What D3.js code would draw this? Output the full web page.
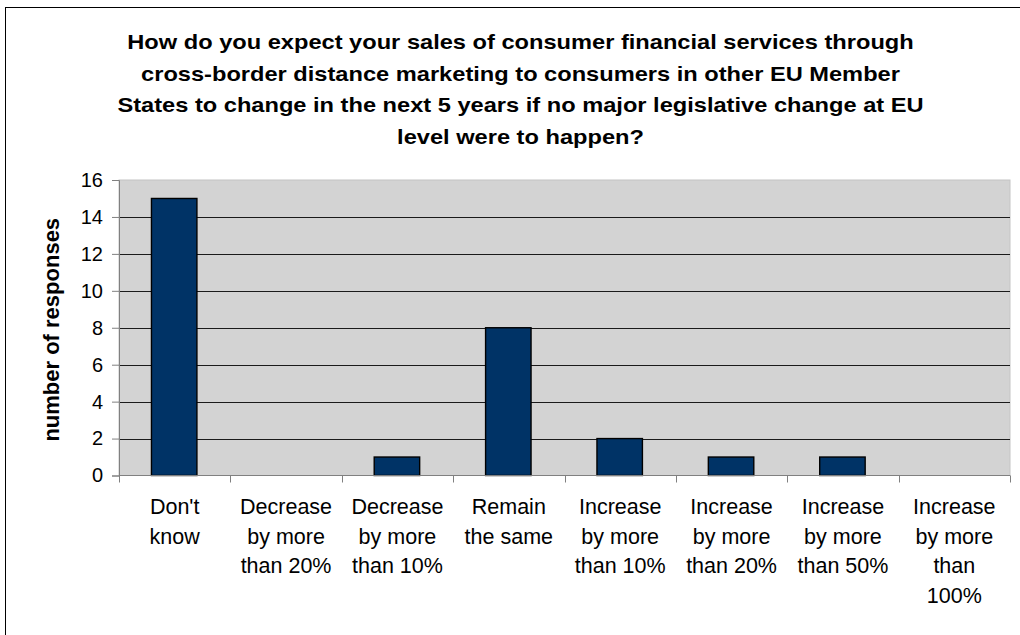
<!DOCTYPE html>
<html>
<head>
<meta charset="utf-8">
<script src="https://cdn.jsdelivr.net/npm/d3@7"></script>
<style>
  html, body { margin: 0; padding: 0; background: #ffffff; }
  svg { display: block; }
  text { font-family: "Liberation Sans", Arial, sans-serif; fill: #000; }
</style>
</head>
<body>
<svg id="chart" width="1020" height="635"></svg>
<script>
// Survey answers and response counts
const categories = [
  ["Don't", "know"],
  ["Decrease", "by more", "than 20%"],
  ["Decrease", "by more", "than 10%"],
  ["Remain", "the same"],
  ["Increase", "by more", "than 10%"],
  ["Increase", "by more", "than 20%"],
  ["Increase", "by more", "than 50%"],
  ["Increase", "by more", "than", "100%"]
];
const responses = [15, 0, 1, 8, 2, 1, 1, 0];
const yTicks = [0, 2, 4, 6, 8, 10, 12, 14, 16];
const titleLines = [
  "How do you expect your sales of consumer financial services through",
  "cross-border distance marketing to consumers in other EU Member",
  "States to change in the next 5 years if no major legislative change at EU",
  "level were to happen?"
];
const yAxisTitle = "number of responses";

const svg = d3.select("#chart");
const W = 1020, H = 635;
const plot = { left: 119, right: 1010, top: 180, bottom: 475.5 };

// outer chart frame
svg.append("rect")
  .attr("x", 5.5).attr("y", 7.5)
  .attr("width", W + 10).attr("height", H + 10)
  .attr("fill", "#fff").attr("stroke", "#000").attr("stroke-width", 1);

const idx = categories.map((d, i) => i);
const x = d3.scaleBand().domain(idx).range([plot.left, plot.right]).paddingInner(0).paddingOuter(0);
const y = d3.scaleLinear().domain([0, 16]).range([plot.bottom, plot.top]);

// plot background
svg.append("rect")
  .attr("x", plot.left).attr("y", plot.top)
  .attr("width", plot.right - plot.left).attr("height", plot.bottom - plot.top)
  .attr("fill", "#d3d3d3").attr("stroke", "#c4c4c4").attr("stroke-width", 1);

// horizontal gridlines
svg.append("g").selectAll("line")
  .data(yTicks.filter(v => v > 0 && v < 16))
  .join("line")
  .attr("x1", plot.left).attr("x2", plot.right)
  .attr("y1", d => Math.round(y(d)) + 0.5).attr("y2", d => Math.round(y(d)) + 0.5)
  .attr("stroke", "#1a1a1a").attr("stroke-width", 1);

// bars
const barW = x.bandwidth() / 2.45;
svg.append("g").selectAll("rect")
  .data(responses.map((v, i) => ({ v, i })).filter(d => d.v > 0))
  .join("rect")
  .attr("x", d => x(d.i) + (x.bandwidth() - barW) / 2 - 0.5)
  .attr("y", d => y(d.v))
  .attr("width", barW)
  .attr("height", d => y(0) - y(d.v))
  .attr("fill", "#003366").attr("stroke", "#000").attr("stroke-width", 1.4);

// y axis
const yAxis = svg.append("g")
  .attr("transform", `translate(${plot.left},0)`)
  .call(d3.axisLeft(y).tickValues(yTicks).tickSize(7).tickPadding(9).tickFormat(d3.format("d")));
yAxis.select(".domain").attr("stroke", "#808080");
yAxis.selectAll(".tick line").attr("stroke", "#808080");
yAxis.selectAll("text").attr("font-size", 20).attr("fill", "#000");

// x axis: ticks at category boundaries
const xAxisG = svg.append("g").attr("transform", `translate(0,${plot.bottom})`);
xAxisG.append("line")
  .attr("x1", plot.left).attr("x2", plot.right).attr("y1", 0).attr("y2", 0)
  .attr("stroke", "#808080");
xAxisG.selectAll("line.tk")
  .data(d3.range(categories.length + 1))
  .join("line").attr("class", "tk")
  .attr("x1", i => Math.round(plot.left + i * x.step()) + 0.5)
  .attr("x2", i => Math.round(plot.left + i * x.step()) + 0.5)
  .attr("y1", 0).attr("y2", 7)
  .attr("stroke", "#808080");

// category labels
const lab = svg.append("g").selectAll("text")
  .data(categories.map((lines, i) => ({ lines, i })))
  .join("text")
  .attr("text-anchor", "middle")
  .attr("font-size", 21.5);
lab.selectAll("tspan")
  .data(d => d.lines.map(l => ({ l, i: d.i })))
  .join("tspan")
  .attr("x", d => x(d.i) + x.bandwidth() / 2)
  .attr("y", (d, j) => 514 + j * 29.5)
  .text(d => d.l);

// y axis title
svg.append("text")
  .attr("transform", `translate(59,${(plot.top + plot.bottom) / 2 + 2}) rotate(-90)`)
  .attr("text-anchor", "middle")
  .attr("font-size", 22).attr("font-weight", "bold")
  .text(yAxisTitle);

// chart title, slightly widened
svg.append("g").selectAll("text")
  .data(titleLines)
  .join("text")
  .attr("x", 520.5)
  .attr("y", (d, i) => 49 + i * 31.7)
  .attr("text-anchor", "middle")
  .attr("font-size", 21).attr("font-weight", "bold")
  .text(d => d)
  .each(function () {
    const len = this.getComputedTextLength();
    d3.select(this).attr("textLength", len * 1.125).attr("lengthAdjust", "spacingAndGlyphs");
  });
</script>
</body>
</html>
